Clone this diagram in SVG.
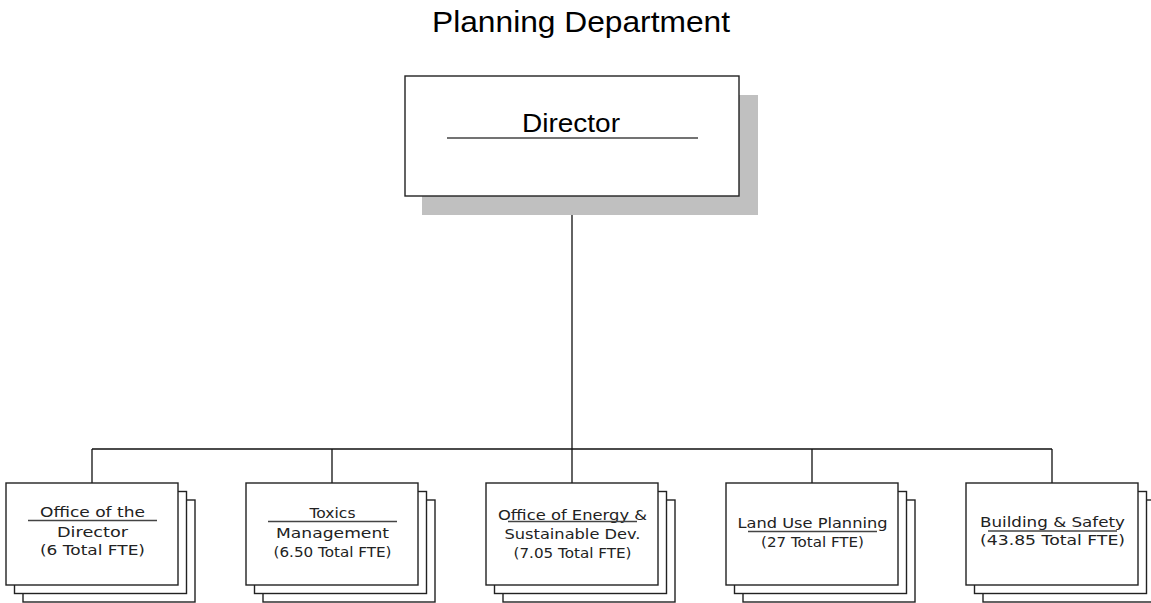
<svg xmlns="http://www.w3.org/2000/svg" width="1151" height="603" viewBox="0 0 1151 603">
<defs>
<style>
.title{font-family:"Liberation Sans",Arial,sans-serif;font-size:30px;fill:#000;text-anchor:middle}
.dir{font-family:"Liberation Sans",Arial,sans-serif;font-size:26px;fill:#000;text-anchor:middle}
.t{font-family:"DejaVu Sans","Liberation Sans",sans-serif;font-size:14.5px;fill:#222;text-anchor:middle}
.card{fill:#fff;stroke:#222;stroke-width:1.4}
.ul{stroke:#444;stroke-width:1.6}
.conn{fill:none;stroke:#111;stroke-width:1.3}
</style>
<g id="stack">
<rect class="card" x="17" y="17" width="172" height="102"/>
<rect class="card" x="8.5" y="8.5" width="172" height="102"/>
<rect class="card" x="0" y="0" width="172" height="102"/>
</g>
</defs>
<rect width="1151" height="603" fill="#fff"/>
<text class="title" x="581" y="32" textLength="298" lengthAdjust="spacingAndGlyphs">Planning Department</text>
<g id="connectors">
<path class="conn" d="M572,196 V449 M92,449 H1052 M92,449 V483 M332,449 V483 M572,449 V483 M812,449 V483 M1052,449 V483"/>
</g>
<g id="director">
<rect x="422" y="95" width="336" height="120" fill="#c0c0c0"/>
<rect x="405" y="76" width="334" height="120" fill="#fff" stroke="#222" stroke-width="1.4"/>
<text class="dir" x="571" y="132" textLength="98" lengthAdjust="spacingAndGlyphs">Director</text>
<line class="ul" x1="447" y1="138" x2="698" y2="138"/>
</g>
<g id="office-of-director">
<use href="#stack" x="6" y="483"/>
<text class="t" x="92.5" y="517" textLength="105" lengthAdjust="spacingAndGlyphs">Office of the</text>
<line class="ul" x1="28" y1="520.5" x2="157" y2="520.5"/>
<text class="t" x="92.5" y="537" textLength="71" lengthAdjust="spacingAndGlyphs">Director</text>
<text class="t" x="92.5" y="555" textLength="105" lengthAdjust="spacingAndGlyphs">(6 Total FTE)</text>
</g>
<g id="toxics">
<use href="#stack" x="246" y="483"/>
<text class="t" x="332.5" y="518" textLength="46" lengthAdjust="spacingAndGlyphs">Toxics</text>
<line class="ul" x1="268" y1="521.5" x2="397" y2="521.5"/>
<text class="t" x="332.5" y="538" textLength="113" lengthAdjust="spacingAndGlyphs">Management</text>
<text class="t" x="332.5" y="556.5" textLength="118" lengthAdjust="spacingAndGlyphs">(6.50 Total FTE)</text>
</g>
<g id="energy">
<use href="#stack" x="486" y="483"/>
<text class="t" x="572.5" y="520" textLength="149" lengthAdjust="spacingAndGlyphs">Office of Energy &amp;</text>
<line class="ul" x1="508" y1="521.5" x2="637" y2="521.5"/>
<text class="t" x="572.5" y="539" textLength="136" lengthAdjust="spacingAndGlyphs">Sustainable Dev.</text>
<text class="t" x="572.5" y="558" textLength="118" lengthAdjust="spacingAndGlyphs">(7.05 Total FTE)</text>
</g>
<g id="land-use">
<use href="#stack" x="726" y="483"/>
<text class="t" x="812.5" y="528" textLength="150" lengthAdjust="spacingAndGlyphs">Land Use Planning</text>
<line class="ul" x1="748" y1="531.5" x2="877" y2="531.5"/>
<text class="t" x="812.5" y="546.5" textLength="103" lengthAdjust="spacingAndGlyphs">(27 Total FTE)</text>
</g>
<g id="building">
<use href="#stack" x="966" y="483"/>
<text class="t" x="1052.5" y="527" textLength="145" lengthAdjust="spacingAndGlyphs">Building &amp; Safety</text>
<line class="ul" x1="988" y1="531" x2="1117" y2="531"/>
<text class="t" x="1052.5" y="545" textLength="145" lengthAdjust="spacingAndGlyphs">(43.85 Total FTE)</text>
</g>
</svg>
